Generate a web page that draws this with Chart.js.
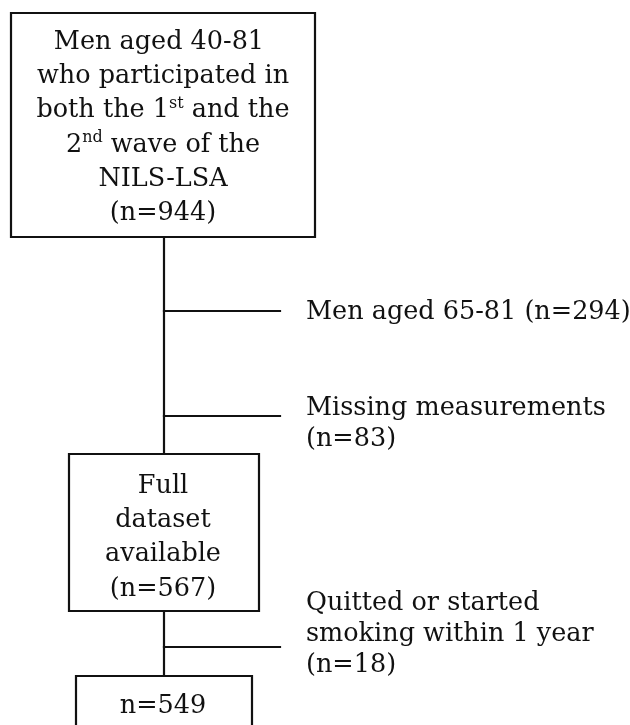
<!DOCTYPE html>
<html>
<head>
<meta charset="utf-8">
<script src="https://cdn.jsdelivr.net/npm/chart.js@4"></script>
<style>
  html, body { margin: 0; padding: 0; background: #fff; }
  #flow { display: block; }
</style>
</head>
<body>
<canvas id="flow" width="630" height="725"></canvas>
<script>
// --- Data ---
// boxes on the main path; {..} marks superscript
const stepLabels = [
  ['Men aged 40-81 ', 'who participated in', 'both the 1{st} and the', '2{nd} wave of the', 'NILS-LSA'],
  ['Full', 'dataset', 'available'],
  []
];
const stepCounts = [944, 567, 549];

// exclusions branching off the path
const exclusionLabels = [
  ['Men aged 65-81'],
  ['Missing measurements'],
  ['Quitted or started', 'smoking within 1 year']
];
const exclusionCounts = [294, 83, 18];

// --- Layout (chart units = pixels) ---
const boxes = [
  { x0: 11, x1: 315, y0: 13, y1: 237 },
  { x0: 69, x1: 259, y0: 454, y1: 611 },
  { x0: 76, x1: 252, y0: 676, y1: 760 }
];
const spineX = 164;
const boxTextX = 163;
const boxFirstBaseline = [49, 493, 713];
const boxLineGap = 34.2;
const branchY = [311, 416, 647];
const branchEnd = 280;
const exclTextX = 306;
const exclFirstBaseline = [319, 415, 610];
const exclLineGap = 31;
const countInline = [true, false, false];

const INK = '#111';
const FONT = 'DejaVu Serif';
const FONT_SIZE = 25.5;

// build line datasets from the layout
const datasets = [];
const seg = (pts) => ({
  data: pts,
  showLine: true,
  borderColor: INK,
  borderWidth: 2.2,
  pointRadius: 0,
  fill: false,
  tension: 0,
  borderCapStyle: 'square'
});

boxes.forEach(b => {
  datasets.push(seg([
    { x: b.x0, y: b.y0 }, { x: b.x1, y: b.y0 },
    { x: b.x1, y: b.y1 }, { x: b.x0, y: b.y1 }, { x: b.x0, y: b.y0 }
  ]));
});
for (let i = 0; i < boxes.length - 1; i++) {
  datasets.push(seg([{ x: spineX, y: boxes[i].y1 }, { x: spineX, y: boxes[i + 1].y0 }]));
}
branchY.forEach(y => {
  datasets.push(seg([{ x: spineX, y: y }, { x: branchEnd, y: y }]));
});

// draw a line that may contain {sup} parts
function drawRich(ctx, text, x, y, align) {
  const parts = [];
  text.split(/(\{[^}]*\})/).forEach(p => {
    if (!p) return;
    if (p[0] === '{') parts.push({ t: p.slice(1, -1), sup: true });
    else parts.push({ t: p, sup: false });
  });
  const fontFor = s => (s ? Math.round(FONT_SIZE * 0.62) : FONT_SIZE) + 'px "' + FONT + '"';
  let w = 0;
  parts.forEach(p => { ctx.font = fontFor(p.sup); p.w = ctx.measureText(p.t).width; w += p.w; });
  let cx = align === 'center' ? x - w / 2 : x;
  ctx.textAlign = 'left';
  parts.forEach(p => {
    ctx.font = fontFor(p.sup);
    ctx.fillText(p.t, cx, p.sup ? y - FONT_SIZE * 0.38 : y);
    cx += p.w;
  });
}

const textPlugin = {
  id: 'flowText',
  afterDatasetsDraw(chart) {
    const ctx = chart.ctx;
    const xs = chart.scales.x, ys = chart.scales.y;
    ctx.save();
    ctx.fillStyle = INK;
    ctx.textBaseline = 'alphabetic';

    stepLabels.forEach((lines, i) => {
      const all = lines.concat(['(n=' + stepCounts[i] + ')']);
      if (!lines.length) all[0] = 'n=' + stepCounts[i];
      all.forEach((ln, k) => {
        drawRich(ctx, ln, xs.getPixelForValue(boxTextX),
          ys.getPixelForValue(boxFirstBaseline[i] + k * boxLineGap), 'center');
      });
    });

    exclusionLabels.forEach((lines, i) => {
      const all = lines.slice();
      const cnt = '(n=' + exclusionCounts[i] + ')';
      if (countInline[i]) all[all.length - 1] += ' ' + cnt;
      else all.push(cnt);
      all.forEach((ln, k) => {
        drawRich(ctx, ln, xs.getPixelForValue(exclTextX),
          ys.getPixelForValue(exclFirstBaseline[i] + k * exclLineGap), 'left');
      });
    });
    ctx.restore();
  }
};

new Chart(document.getElementById('flow'), {
  type: 'scatter',
  data: { datasets },
  options: {
    responsive: false,
    animation: false,
    events: [],
    layout: { padding: 0 },
    plugins: { legend: { display: false }, tooltip: { enabled: false } },
    scales: {
      x: { type: 'linear', min: 0, max: 630, display: false },
      y: { type: 'linear', min: 0, max: 725, reverse: true, display: false }
    }
  },
  plugins: [textPlugin]
});
</script>
</body>
</html>
